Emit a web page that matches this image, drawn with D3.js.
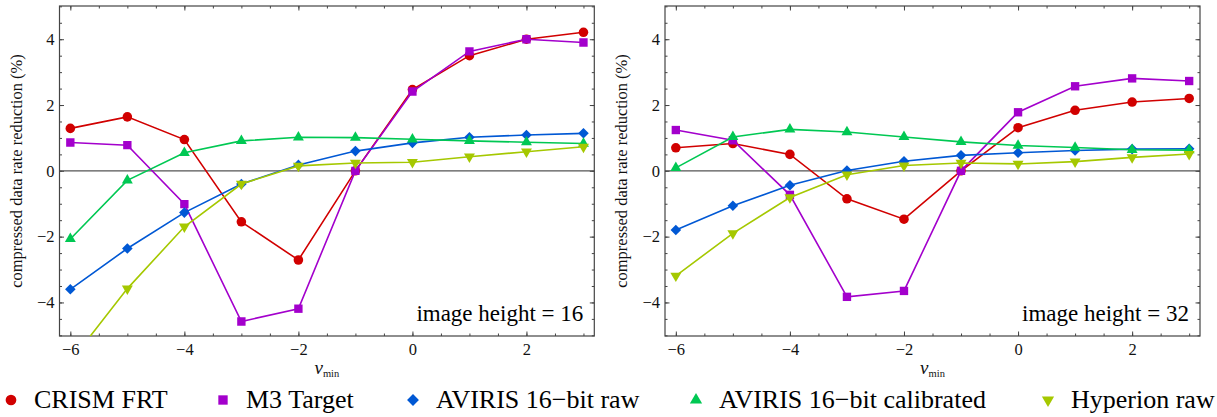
<!DOCTYPE html>
<html>
<head>
<meta charset="utf-8">
<script src="https://cdn.jsdelivr.net/npm/d3@7"></script>
<style>
  html, body { margin: 0; padding: 0; background: #fff; }
  svg { display: block; font-family: "Liberation Serif", "Times New Roman", serif; }
</style>
</head>
<body>
<script>
// v_min values along the horizontal axis
const vmin = [-6, -5, -4, -3, -2, -1, 0, 1, 2, 3];

// image height = 16
const crism16     = [1.29, 1.64, 0.95, -1.55, -2.71, 0.00, 2.47, 3.50, 4.00, 4.21];
const m3_16       = [0.86, 0.78, -1.01, -4.58, -4.19, 0.00, 2.41, 3.63, 4.00, 3.90];
const avirisRaw16 = [-3.60, -2.36, -1.27, -0.40, 0.18, 0.60, 0.85, 1.02, 1.09, 1.14];
const avirisCal16 = [-2.07, -0.29, 0.55, 0.91, 1.02, 1.01, 0.96, 0.91, 0.87, 0.83];
const hyperion16  = [-5.80, -3.58, -1.70, -0.40, 0.15, 0.24, 0.26, 0.43, 0.58, 0.73];

// image height = 32
const crism32     = [0.70, 0.83, 0.50, -0.85, -1.47, 0.00, 1.31, 1.84, 2.09, 2.20];
const m3_32       = [1.24, 0.93, -0.73, -3.83, -3.65, 0.00, 1.78, 2.57, 2.81, 2.73];
const avirisRaw32 = [-1.80, -1.06, -0.44, 0.01, 0.29, 0.47, 0.55, 0.62, 0.66, 0.67];
const avirisCal32 = [0.09, 1.03, 1.26, 1.18, 1.03, 0.88, 0.77, 0.71, 0.64, 0.63];
const hyperion32  = [-3.19, -1.90, -0.81, -0.12, 0.16, 0.24, 0.21, 0.28, 0.41, 0.51];

const seriesNames = ["CRISM FRT", "M3 Target", "AVIRIS 16\u2212bit raw", "AVIRIS 16\u2212bit calibrated", "Hyperion raw"];
const panelLabels = ["image height = 16", "image height = 32"];
const xMajorTicks = [-6, -4, -2, 0, 2];
const yMajorTicks = [-4, -2, 0, 2, 4];

// styling
const colors  = ["#d10000", "#a300cc", "#0058d4", "#00c853", "#a5c800"];
const shapes  = ["circle", "square", "diamond", "triUp", "triDown"];
const W = 1217, H = 417;
const plotTop = 6, plotBottom = 336;
const panelBounds = [[59.5, 594.3], [665, 1200]];
const legendX = [11, 223, 413, 696, 1048];
const serif = "'Liberation Serif', 'Times New Roman', serif";

const svg = d3.select("body").append("svg")
  .attr("width", W).attr("height", H)
  .attr("viewBox", `0 0 ${W} ${H}`);
svg.append("rect").attr("width", W).attr("height", H).attr("fill", "#fff");

function symbolPath(shape, k = 1) {
  switch (shape) {
    case "circle":  return d3.symbol(d3.symbolCircle, 72 * k)();
    case "square":  return d3.symbol(d3.symbolSquare, 70 * k)();
    case "diamond": return d3.symbol(d3.symbolSquare, 56 * k)();
    case "triUp":   return d3.symbol(d3.symbolTriangle, 52 * k)();
    case "triDown": return d3.symbol(d3.symbolTriangle, 52 * k)();
  }
}
function symbolRotate(shape) {
  return shape === "diamond" ? 45 : shape === "triDown" ? 180 : 0;
}

const panelSeries = [
  [crism16, m3_16, avirisRaw16, avirisCal16, hyperion16],
  [crism32, m3_32, avirisRaw32, avirisCal32, hyperion32]
];

panelSeries.forEach((seriesList, pi) => {
  const [x0, x1] = panelBounds[pi];
  const x = d3.scaleLinear().domain([-6.19, 3.19]).range([x0, x1]);
  const y = d3.scaleLinear().domain([-5.02, 5.01]).range([plotBottom, plotTop]);
  const g = svg.append("g");
  const clipId = "clip" + pi;
  svg.append("clipPath").attr("id", clipId)
    .append("rect").attr("x", x0).attr("y", plotTop)
    .attr("width", x1 - x0).attr("height", plotBottom - plotTop);

  const xMinor = d3.range(-6, 3.01, 0.5);
  const yMinor = d3.range(-5, 5.01, 0.5);

  const tickStyle = sel => {
    sel.attr("font-size", 16.5).attr("font-family", serif);
    sel.select(".domain").remove();
    sel.selectAll(".tick line").attr("stroke", "#444").attr("stroke-width", 1);
    sel.selectAll(".tick text").attr("fill", "#111");
  };

  // minor ticks on all four sides
  g.append("g").attr("transform", `translate(0,${plotBottom})`)
    .call(d3.axisBottom(x).tickValues(xMinor).tickSize(-2.5).tickFormat("")).call(tickStyle);
  g.append("g").attr("transform", `translate(0,${plotTop})`)
    .call(d3.axisTop(x).tickValues(xMinor).tickSize(-2.5).tickFormat("")).call(tickStyle);
  g.append("g").attr("transform", `translate(${x0},0)`)
    .call(d3.axisLeft(y).tickValues(yMinor).tickSize(-2.5).tickFormat("")).call(tickStyle);
  g.append("g").attr("transform", `translate(${x1},0)`)
    .call(d3.axisRight(y).tickValues(yMinor).tickSize(-2.5).tickFormat("")).call(tickStyle);

  // major ticks, labelled on bottom and left
  g.append("g").attr("transform", `translate(0,${plotBottom})`)
    .call(d3.axisBottom(x).tickValues(xMajorTicks).tickSize(-4.5).tickPadding(7).tickFormat(d3.format("d"))).call(tickStyle);
  g.append("g").attr("transform", `translate(0,${plotTop})`)
    .call(d3.axisTop(x).tickValues(xMajorTicks).tickSize(-4.5).tickFormat("")).call(tickStyle);
  g.append("g").attr("transform", `translate(${x0},0)`)
    .call(d3.axisLeft(y).tickValues(yMajorTicks).tickSize(-4.5).tickPadding(5).tickFormat(d3.format("d"))).call(tickStyle);
  g.append("g").attr("transform", `translate(${x1},0)`)
    .call(d3.axisRight(y).tickValues(yMajorTicks).tickSize(-4.5).tickFormat("")).call(tickStyle);

  // zero reference line
  g.append("line")
    .attr("x1", x0).attr("x2", x1).attr("y1", y(0)).attr("y2", y(0))
    .attr("stroke", "#555").attr("stroke-width", 1.1);

  // frame
  g.append("rect")
    .attr("x", x0).attr("y", plotTop)
    .attr("width", x1 - x0).attr("height", plotBottom - plotTop)
    .attr("fill", "none").attr("stroke", "#444").attr("stroke-width", 1.2);

  // series
  const plot = g.append("g").attr("clip-path", `url(#${clipId})`);
  const line = d3.line().x(d => x(d[0])).y(d => y(d[1]));
  seriesList.forEach((vals, si) => {
    const pts = vmin.map((v, i) => [v, vals[i]]);
    plot.append("path").datum(pts)
      .attr("d", line).attr("fill", "none")
      .attr("stroke", colors[si]).attr("stroke-width", 1.6);
    plot.selectAll(null).data(pts).join("path")
      .attr("d", symbolPath(shapes[si]))
      .attr("transform", d => `translate(${x(d[0])},${y(d[1])}) rotate(${symbolRotate(shapes[si])})`)
      .attr("fill", colors[si]);
  });

  // panel annotation
  g.append("text")
    .attr("x", x1 - 11).attr("y", 321)
    .attr("text-anchor", "end").attr("font-size", 23).attr("fill", "#000")
    .text(panelLabels[pi]);

  // axis titles
  g.append("text")
    .attr("transform", `translate(${x0 - 38},${(plotTop + plotBottom) / 2}) rotate(-90)`)
    .attr("text-anchor", "middle").attr("font-size", 16.5).attr("fill", "#111")
    .text("compressed data rate reduction (%)");
  const xt = g.append("text")
    .attr("x", (x0 + x1) / 2).attr("y", 374)
    .attr("text-anchor", "middle").attr("fill", "#111");
  xt.append("tspan").attr("font-style", "italic").attr("font-size", 19).text("v");
  xt.append("tspan").attr("font-size", 10.5).attr("dy", 3).text("min");
});

// legend
const legend = svg.append("g");
seriesNames.forEach((name, si) => {
  const lx = legendX[si];
  legend.append("path")
    .attr("d", symbolPath(shapes[si], 1.25))
    .attr("transform", `translate(${lx},400) rotate(${symbolRotate(shapes[si])})`)
    .attr("fill", colors[si]);
  legend.append("text")
    .attr("x", lx + 23).attr("y", 408)
    .attr("font-size", 26).attr("fill", "#000")
    .text(name);
});
</script>
</body>
</html>
